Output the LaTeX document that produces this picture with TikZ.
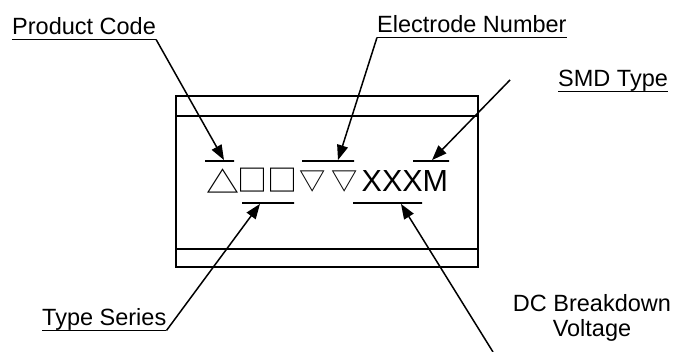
\documentclass[tikz,border=0pt]{standalone}
\usepackage{fontspec}
\setmainfont{Liberation Sans}
\newfontfamily\cjkfont{Noto Sans CJK JP}
\usetikzlibrary{arrows.meta}
\newcommand{\glyph}[5]{\makebox[#1pt][c]{\raisebox{#4pt}{\scalebox{#2}[#3]{#5}}}}
\begin{document}
\begin{tikzpicture}[x=1pt,y=1pt,
  lbl/.style={font=\fontsize{23.5}{25}\selectfont, inner sep=0pt, anchor=base west},
  box/.style={line width=2pt},
  barline/.style={draw, line width=1.8pt, minimum height=0pt, inner sep=0pt, shape=rectangle},
  conn/.style={line width=1.5pt, -{Triangle[length=15pt,width=11pt]}},
  uline/.style={line width=1.2pt}]
\useasboundingbox (0,0) rectangle (675,352);
% chip body
\node[draw, box, minimum width=302pt, minimum height=171pt, inner sep=0pt, anchor=south west] (chip) at (175,84) {};
\draw[box] ([yshift=-21pt]chip.north west) -- ([yshift=-21pt]chip.north east);
\draw[box] ([yshift=19pt]chip.south west) -- ([yshift=19pt]chip.south east);
% marking
\node[inner sep=0pt, anchor=base west] (mark) at (208,160)
  {{\cjkfont\fontsize{30}{30}\selectfont\glyph{30}{1.1}{1.0}{-2}{△}\glyph{29}{1.0}{1.0}{0}{□}\glyph{31}{1.0}{1.0}{0}{□}\glyph{29}{0.875}{0.875}{1}{▽}\glyph{34.5}{0.875}{0.875}{1}{▽}}{\fontsize{30.5}{31}\selectfont XXXM}};
% bars
\node[barline, minimum width=29pt] (b1) at (219.5,191) {};
\node[barline, minimum width=52pt] (b2) at (328,191) {};
\node[barline, minimum width=36pt] (b3) at (431,191) {};
\node[barline, minimum width=52pt] (b4) at (268,149) {};
\node[barline, minimum width=69pt] (b5) at (387.5,149) {};
% labels
\node[lbl] (pc) at (12,317) {Product Code};
\node[lbl] (en) at (377,319) {Electrode Number};
\node[lbl] (smd) at (558,265) {SMD Type};
\node[lbl] (ts) at (42,26) {Type Series};
\node[font=\fontsize{23.5}{25}\selectfont, align=center, inner sep=0pt, anchor=base] (dc) at (592,15) {DC Breakdown\\Voltage};
% underlines
\foreach \n in {pc,en,smd,ts}
  \draw[uline] ([yshift=-4.5pt]\n.base west) -- ([yshift=-4.5pt]\n.base east);
% connectors
\coordinate (smdend) at (510,272);
\coordinate (dcend) at (493,0);
\draw[conn] ([yshift=-4.5pt]pc.base east) -- ([xshift=4.5pt]b1.north);
\draw[conn] ([yshift=-4.5pt]en.base west) -- ([xshift=10pt]b2.north);
\draw[conn] (smdend) -- ([xshift=1pt]b3.north);
\draw[conn] ([yshift=-4.5pt]ts.base east) -- ([xshift=-8pt]b4.south);
\draw[conn] (dcend) -- ([xshift=13.5pt]b5.south);
\end{tikzpicture}
\end{document}
